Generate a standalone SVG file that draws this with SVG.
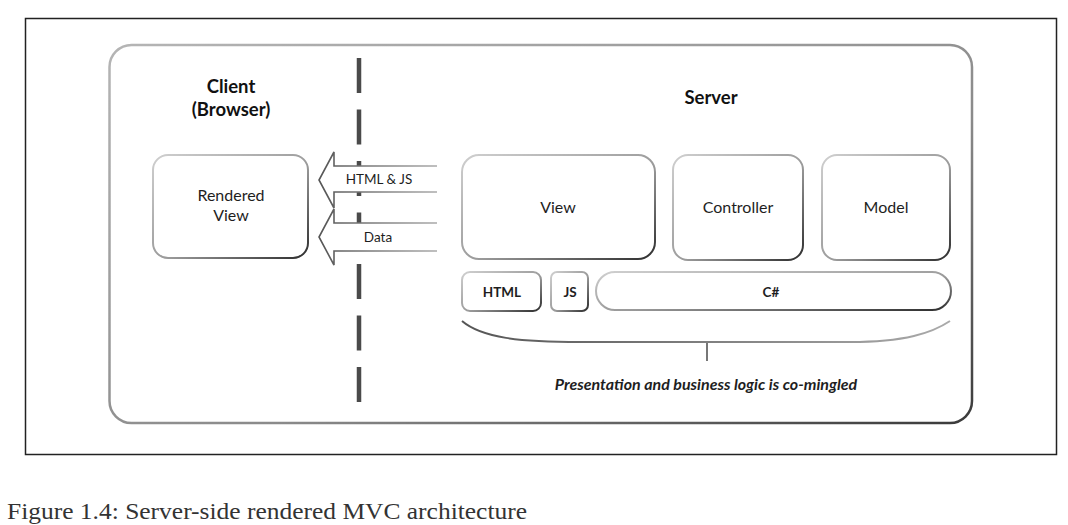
<svg xmlns="http://www.w3.org/2000/svg" width="1068" height="525" viewBox="0 0 1068 525">
<defs>
<linearGradient id="g" x1="0" y1="0" x2="1" y2="1">
<stop offset="0" stop-color="#cfcfcf"/>
<stop offset="0.55" stop-color="#9a9a9a"/>
<stop offset="1" stop-color="#2e2e2e"/>
</linearGradient>
<linearGradient id="gf" x1="0" y1="0" x2="1" y2="1">
<stop offset="0" stop-color="#b5b5b5"/>
<stop offset="0.6" stop-color="#8a8a8a"/>
<stop offset="1" stop-color="#3a3a3a"/>
</linearGradient>
<linearGradient id="ga" x1="0" y1="0" x2="1" y2="0">
<stop offset="0" stop-color="#555"/>
<stop offset="1" stop-color="#aaa"/>
</linearGradient>
</defs>
<style>
.box{fill:#fff;stroke:url(#g);stroke-width:2}
.t{font-family:Lato,"Liberation Sans",sans-serif;fill:#1e1e1e;text-anchor:middle;font-size:16px}
.b{font-weight:bold;fill:#111;font-size:18.5px}
.s{font-size:13.5px}
.sb{font-size:13.5px;font-weight:bold}
.arr{fill:#fff;stroke:url(#ga);stroke-width:1.6;stroke-linejoin:miter}
</style>
<rect x="0" y="0" width="1068" height="525" fill="#fff"/>
<rect x="25.5" y="18.5" width="1031" height="436" fill="none" stroke="#222" stroke-width="1.5"/>
<rect id="frame" x="109.5" y="45" width="862.5" height="378" rx="22" fill="#fff" stroke="url(#gf)" stroke-width="2.5"/>

<g id="divider">
<line x1="359" y1="58" x2="359" y2="402" stroke="#4a4a4a" stroke-width="4.5" stroke-dasharray="35 16.5"/>
</g>

<g id="labels">
<text class="t b" x="231" y="93">Client</text>
<text class="t b" x="231" y="116">(Browser)</text>
<text class="t b" x="711" y="104">Server</text>
</g>

<g id="rendered-view">
<rect class="box" x="153" y="155" width="155" height="103" rx="15"/>
<text class="t" x="231" y="201">Rendered</text>
<text class="t" x="231" y="221">View</text>
</g>

<g id="connectors">
<path class="arr" d="M437,166 L334,166 L334,152 L319,180 L334,208 L334,192 L437,192"/>
<text class="t s" x="379" y="184">HTML &amp; JS</text>
<path class="arr" d="M437,223 L334,223 L334,209 L319,237 L334,265 L334,251 L437,251"/>
<text class="t s" x="378" y="242">Data</text>
</g>

<g id="view">
<rect class="box" x="462" y="155" width="193" height="104" rx="17"/>
<text class="t" x="558" y="213">View</text>
</g>
<g id="controller">
<rect class="box" x="673" y="155" width="130" height="105" rx="15"/>
<text class="t" x="738" y="213">Controller</text>
</g>
<g id="model">
<rect class="box" x="822" y="155" width="128" height="105" rx="15"/>
<text class="t" x="886" y="213">Model</text>
</g>

<g id="html">
<rect class="box" x="462" y="272" width="79" height="39" rx="8"/>
<text class="t sb" x="502" y="297">HTML</text>
</g>
<g id="js">
<rect class="box" x="551" y="272" width="37" height="39" rx="6"/>
<text class="t sb" x="570" y="297">JS</text>
</g>
<g id="csharp">
<rect class="box" x="596" y="272" width="355" height="38" rx="19"/>
<text class="t sb" x="771" y="297">C#</text>
</g>

<g id="brace">
<path d="M462,321 C482,338 520,342 580,342 L850,342 C905,342 932,333 950,321" fill="none" stroke="url(#ga)" stroke-width="2"/>
<line x1="707" y1="343" x2="707" y2="361" stroke="#777" stroke-width="2"/>
<text class="t" x="706" y="390" font-style="italic" font-weight="bold" font-size="15.5" fill="#222">Presentation and business logic is co-mingled</text>
</g>

<text x="7" y="519" font-family="'Liberation Serif',serif" font-size="24" fill="#333" textLength="520" lengthAdjust="spacingAndGlyphs">Figure 1.4: Server-side rendered MVC architecture</text>
</svg>
